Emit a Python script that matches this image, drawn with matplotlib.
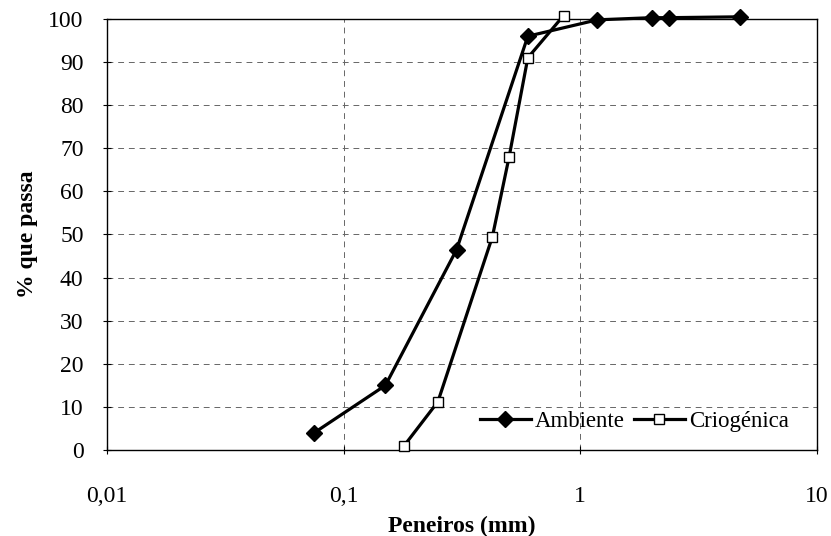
import matplotlib
matplotlib.use("Agg")
import matplotlib.pyplot as plt
from matplotlib.ticker import FixedLocator, FixedFormatter, NullLocator

# peneiros (mm) e % que passa
amb_mm = [0.075, 0.15, 0.3, 0.6, 1.18, 2.0, 2.36, 4.75]
amb_pct = [4.0, 15.0, 46.5, 96.0, 99.8, 100.3, 100.3, 100.5]

crio_mm = [0.18, 0.25, 0.425, 0.5, 0.6, 0.85]
crio_pct = [1.0, 11.2, 49.5, 68.0, 91.0, 100.8]

x_ticks = [0.01, 0.1, 1, 10]
x_labels = ["0,01", "0,1", "1", "10"]
y_ticks = list(range(0, 101, 10))

plt.rcParams["font.family"] = ["Liberation Serif", "DejaVu Serif"]

fig = plt.figure(figsize=(8.31, 5.36), dpi=100)
ax = fig.add_axes([0.129, 0.1604, 0.854, 0.8042])

ax.plot(amb_mm, amb_pct, color="black", lw=2.3, marker="D", markersize=8,
        markerfacecolor="black", markeredgecolor="black", label="Ambiente",
        clip_on=False, zorder=3)
ax.plot(crio_mm, crio_pct, color="black", lw=2.3, marker="s", markersize=7,
        markerfacecolor="white", markeredgecolor="black", markeredgewidth=1.0,
        label="Criogénica", clip_on=False, zorder=3)

ax.set_xscale("log")
ax.set_xlim(0.01, 10)
ax.set_ylim(0, 100)
ax.xaxis.set_major_locator(FixedLocator(x_ticks))
ax.xaxis.set_major_formatter(FixedFormatter(x_labels))
ax.xaxis.set_minor_locator(NullLocator())
ax.set_yticks(y_ticks)

ax.grid(True, which="major", color="#666666", linestyle=(0, (6, 5)), lw=0.7)
ax.tick_params(axis="both", labelsize=17, direction="inout", length=6, width=0.8)
ax.tick_params(axis="x", pad=23)
ax.tick_params(axis="y", pad=14)
for s in ax.spines.values():
    s.set_linewidth(1.0)

ax.set_xlabel("Peneiros (mm)", fontsize=17, fontweight="bold", labelpad=6)
ax.set_ylabel("% que passa", fontsize=17, fontweight="bold", labelpad=7)

ax.legend(loc="lower right", bbox_to_anchor=(0.99, -0.005), ncol=2, frameon=False,
          fontsize=16.5, handlelength=2.2, handletextpad=0.2, columnspacing=0.4)

plt.savefig("out.png", dpi=100)
